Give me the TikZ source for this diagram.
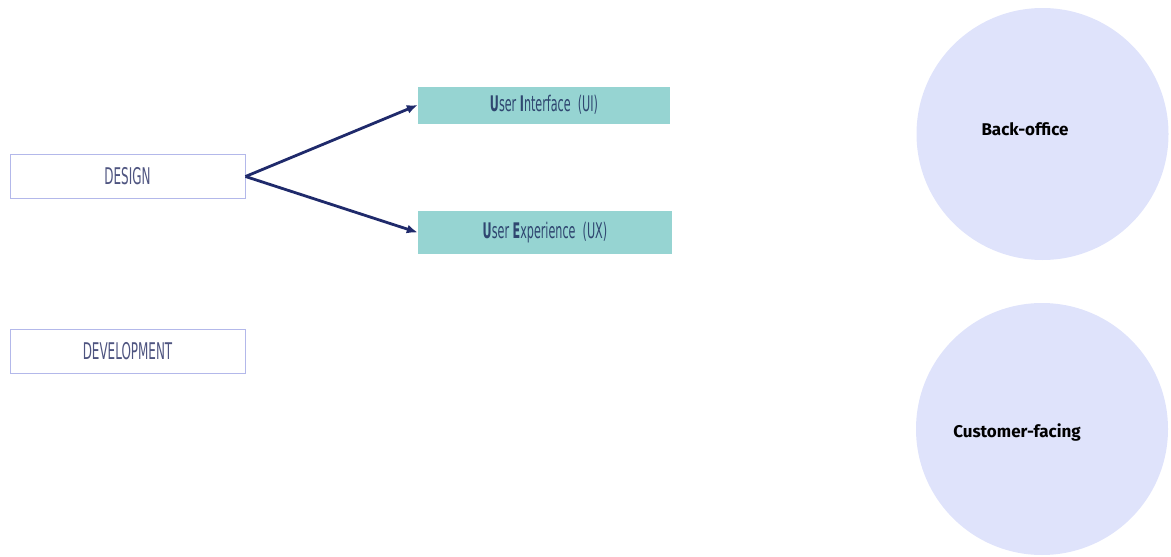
\documentclass[tikz,border=0pt]{standalone}
\usepackage{fontspec}
\setmainfont{DejaVu Sans}
\newfontfamily\condfont[FakeStretch=0.52]{DejaVu Sans}
\newfontfamily\circfont{Fira Sans}
\definecolor{boxline}{HTML}{B3B8EA}
\definecolor{boxtext}{HTML}{4E5480}
\definecolor{tealfill}{HTML}{96D4D2}
\definecolor{tealtext}{HTML}{2F4670}
\definecolor{circfill}{HTML}{DFE3FB}
\definecolor{arrowcol}{HTML}{1F2A6B}
\tikzset{
  x=1pt,y=-1pt,
  stagebox/.style={draw=boxline,line width=1pt,fill=white,minimum width=235pt,minimum height=44pt,inner sep=0pt,font=\condfont\fontsize{23}{24}\selectfont,text=boxtext},
  topicbox/.style={draw=none,fill=tealfill,minimum height=37pt,inner sep=0pt,font=\condfont\fontsize{21.5}{23}\selectfont,text=tealtext},
  bubble/.style={circle,fill=circfill,draw=none,minimum size=252pt,inner sep=0pt},
  bubbletext/.style={font=\circfont\bfseries\fontsize{17}{19}\selectfont,text=black,inner sep=0pt},
  link/.style={draw=arrowcol,line width=2.8pt,-{Latex[length=11pt,width=9pt]}}
}
\usetikzlibrary{arrows.meta}
\begin{document}
\begin{tikzpicture}
\useasboundingbox (0,0) rectangle (1171,557);
\node[stagebox] (design) at (127.5,176.5) {DESIGN};
\node[stagebox] (dev) at (127.5,351) {DEVELOPMENT};
\node[topicbox,minimum width=252pt] (ui) at (544,105) {\textbf{U}ser \textbf{I}nterface\ \ (UI)};
\node[topicbox,minimum width=254pt,minimum height=43pt] (ux) at (545,232.5) {\textbf{U}ser \textbf{E}xperience\ \ (UX)};
\node[bubble] (back) at (1042.5,134) {};
\node[bubble] (cust) at (1042,429) {};
\node[bubbletext] (backt) at (1025,129) {Back-office};
\node[bubbletext] (custt) at (1017,432) {Customer-facing};
\draw[link] (design.east) -- (ui.west);
\draw[link] (design.east) -- (ux.west);
\end{tikzpicture}
\end{document}
